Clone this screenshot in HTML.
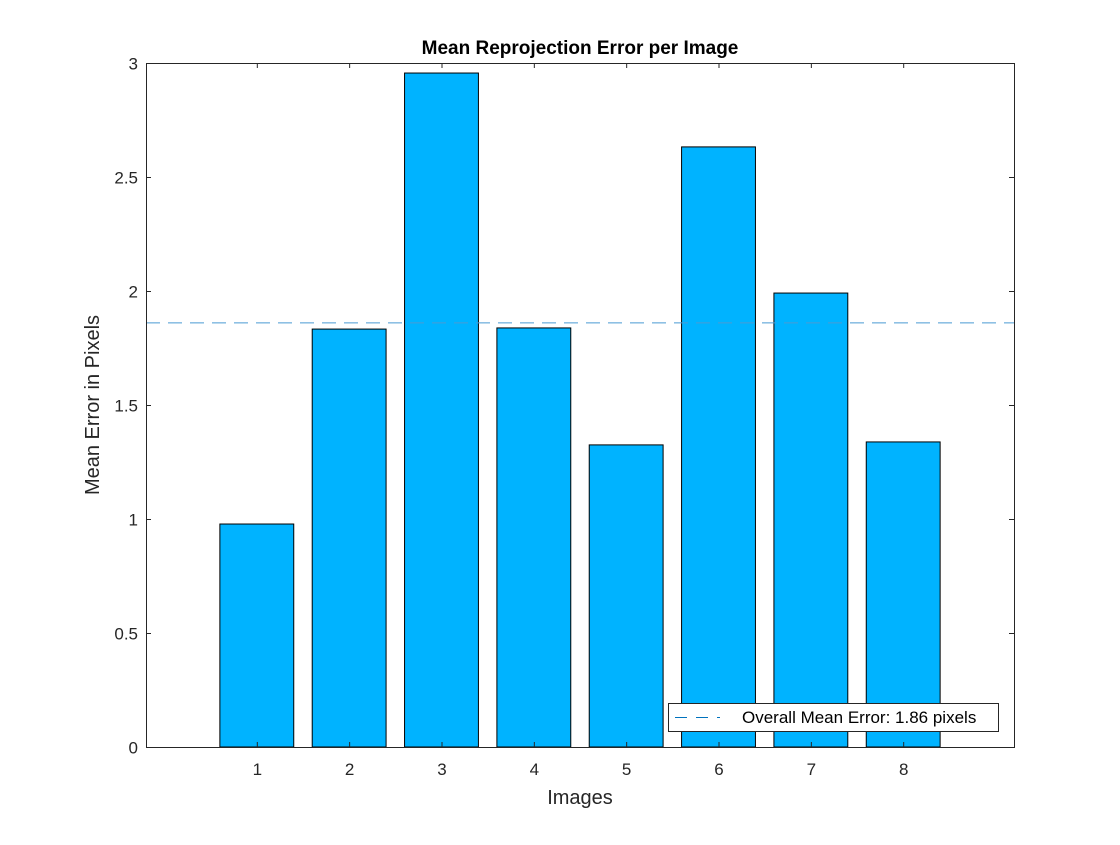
<!DOCTYPE html>
<html><head><meta charset="utf-8"><style>
html,body{margin:0;padding:0;background:#fff;}
svg text{font-family:"Liberation Sans",sans-serif;}
</style></head><body>
<svg id="chart" width="1120" height="840" xmlns="http://www.w3.org/2000/svg">
<rect x="0" y="0" width="1120" height="840" fill="#fff"/>
<g id="bars"></g>
<g id="ticks"></g>
<text x="580" y="54" text-anchor="middle" font-size="19" font-weight="bold" fill="#000">Mean Reprojection Error per Image</text>
<text x="580" y="804" text-anchor="middle" font-size="20" fill="#262626">Images</text>
<text transform="translate(99,405) rotate(-90)" text-anchor="middle" font-size="20" fill="#262626">Mean Error in Pixels</text>
</svg>
<script>
const categories=[1,2,3,4,5,6,7,8];
const values=[0.978,1.833,2.956,1.838,1.325,2.632,1.991,1.338];
const overallMean=[1.86];
const yTicks=[0,0.5,1,1.5,2,2.5,3];
const yTickLabels=["0","0.5","1","1.5","2","2.5","3"];
const legendLabel="Overall Mean Error: 1.86 pixels";

const L=146,R=1014,T=63,B=747,xmin=-0.2,xmax=9.2,ymin=0,ymax=3;
const NS="http://www.w3.org/2000/svg";
function sx(v){return L+(v-xmin)/(xmax-xmin)*(R-L);}
function sy(v){return B-(v-ymin)/(ymax-ymin)*(B-T);}
function mk(tag,a,parent){const e=document.createElementNS(NS,tag);for(const k in a)e.setAttribute(k,a[k]);parent.appendChild(e);return e;}
const svg=document.getElementById('chart');
const bars=document.getElementById('bars');
const ticks=document.getElementById('ticks');
const bw=0.8;
categories.forEach((c,i)=>{
  const r=mk('rect',{x:sx(c-bw/2),y:sy(values[i]),width:sx(c+bw/2)-sx(c-bw/2),height:sy(0)-sy(values[i]),fill:'#00B3FF',stroke:'#000','stroke-width':1},bars);
  
  
});
const ml=mk('line',{x1:L,x2:R,y1:sy(overallMean[0]),y2:sy(overallMean[0]),stroke:'#4a9bd4','stroke-width':1,'stroke-dasharray':'14,8'},svg);


const box=mk('rect',{x:L+0.5,y:T+0.5,width:R-L,height:B-T,fill:'none',stroke:'#262626','stroke-width':1},svg);


const TL=5;
yTicks.forEach((t,i)=>{
  const y=sy(t)+0.5;
  mk('line',{x1:L,x2:L+TL,y1:y,y2:y,stroke:'#262626'},ticks);
  mk('line',{x1:R-TL,x2:R,y1:y,y2:y,stroke:'#262626'},ticks);
  const tx=mk('text',{x:L-8,y:y+6,'text-anchor':'end','font-size':17,fill:'#262626'},ticks);
  tx.textContent=yTickLabels[i];
  
  
});
categories.forEach(c=>{
  const x=sx(c)+0.5;
  mk('line',{x1:x,x2:x,y1:B,y2:B-TL,stroke:'#262626'},ticks);
  mk('line',{x1:x,x2:x,y1:T,y2:T+TL,stroke:'#262626'},ticks);
  const tx=mk('text',{x:x,y:B+28,'text-anchor':'middle','font-size':17,fill:'#262626'},ticks);
  tx.textContent=String(c);
  
  
});
const lg=mk('g',{},svg);


mk('rect',{x:668.5,y:703.5,width:330,height:28,fill:'#fff',stroke:'#262626'},lg);
mk('line',{x1:675,x2:720,y1:717.5,y2:717.5,stroke:'#0072BD','stroke-dasharray':'12,9'},lg);
const lt=mk('text',{x:742,y:723,'font-size':17,fill:'#000'},lg);
lt.textContent=legendLabel;
</script>
</body></html>
